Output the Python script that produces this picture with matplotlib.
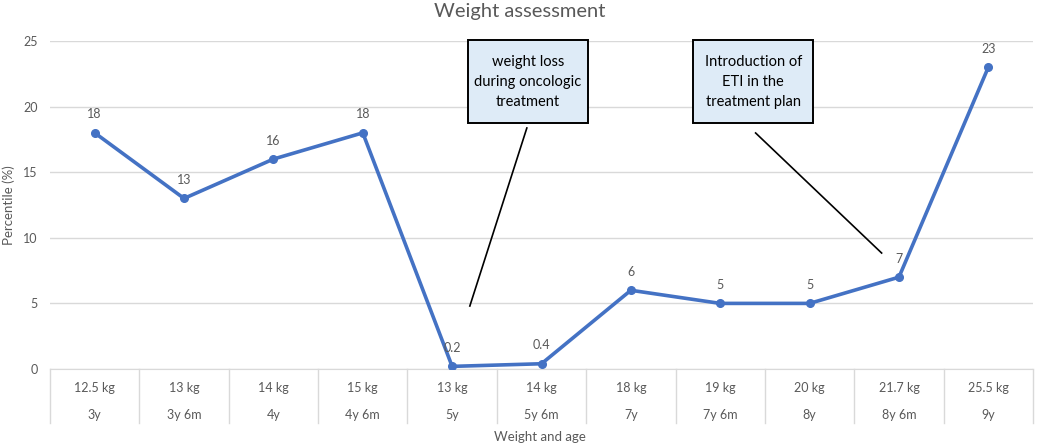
import numpy as np
import matplotlib.pyplot as plt
from matplotlib.patches import Rectangle
from matplotlib.transforms import blended_transform_factory

plt.rcParams['font.family'] = ['Lato', 'DejaVu Sans']

# data
weights = ['12.5 kg', '13 kg', '14 kg', '15 kg', '13 kg', '14 kg', '18 kg',
           '19 kg', '20 kg', '21.7 kg', '25.5 kg']
ages = ['3y', '3y 6m', '4y', '4y 6m', '5y', '5y 6m', '7y', '7y 6m', '8y',
        '8y 6m', '9y']
percentile = [18, 13, 16, 18, 0.2, 0.4, 6, 5, 5, 7, 23]
labels = ['18', '13', '16', '18', '0.2', '0.4', '6', '5', '5', '7', '23']

grey = '#595959'
blue = '#4472C4'

fig = plt.figure(figsize=(10.4, 4.45), dpi=100)
ax = fig.add_axes([50 / 1040, 1 - 369 / 445, 983 / 1040, 328 / 445])

x = np.arange(len(percentile))
ax.plot(x, percentile, color=blue, lw=2.6, marker='o', ms=5.5, zorder=3,
        solid_joinstyle='round')
for xi, yi, lab in zip(x, percentile, labels):
    ax.annotate(lab, (xi, yi), xytext=(0, 9), textcoords='offset points',
                ha='center', va='bottom', fontsize=9, color=grey)

ax.set_xlim(-0.5, len(x) - 0.5)
ax.set_ylim(0, 25)
ax.set_yticks([0, 5, 10, 15, 20, 25])
ax.yaxis.grid(True, color='#D9D9D9', lw=1)
ax.set_axisbelow(True)
ax.tick_params(axis='y', length=0, labelsize=9, labelcolor=grey, pad=9)
ax.set_xticks([])
for s in ['top', 'right', 'left']:
    ax.spines[s].set_visible(False)
ax.spines['bottom'].set_color('#D9D9D9')

fig.text(9 / 1040, 1 - 205 / 445, 'Percentile (%)', rotation=90,
         ha='center', va='center', fontsize=9.5, color=grey)

# two-level category table below the axis
tr = blended_transform_factory(ax.transData, ax.transAxes)
for b in np.arange(-0.5, len(x), 1.0):
    ax.plot([b, b], [0, -54 / 328], transform=tr, color='#D9D9D9', lw=1,
            clip_on=False)
for xi, w, a in zip(x, weights, ages):
    ax.text(xi, -19 / 328, w, transform=tr, ha='center', va='center',
            fontsize=9, color=grey)
    ax.text(xi, -46 / 328, a, transform=tr, ha='center', va='center',
            fontsize=9, color=grey)
fig.text(540 / 1040, 1 - 437 / 445, 'Weight and age', ha='center',
         va='center', fontsize=9.5, color=grey)

fig.text(520 / 1040, 1 - 12 / 445, 'Weight assessment', ha='center',
         va='center', fontsize=14.5, color=grey)

# callouts
boxes = [
    (4.85, 21.9, 'weight loss\nduring oncologic\ntreatment',
     (4.836, 18.37), (4.198, 4.80)),
    (7.37, 21.9, 'Introduction of\nETI in the\ntreatment plan',
     (7.396, 17.99), (8.806, 8.84)),
]
bw, bh = 120 / 89.36, 83 / 13.12
for cx, cy, txt, p0, p1 in boxes:
    ax.add_patch(Rectangle((cx - bw / 2, cy - bh / 2), bw, bh,
                           facecolor='#DEEBF7', edgecolor='black', lw=1.4,
                           zorder=4, clip_on=False))
    ax.text(cx, cy, txt, ha='center', va='center', fontsize=10.5,
            color='black', linespacing=1.55, zorder=5)
    ax.plot([p0[0], p1[0]], [p0[1], p1[1]], color='black', lw=1.2, zorder=4)

fig.savefig('out.png', dpi=100)
